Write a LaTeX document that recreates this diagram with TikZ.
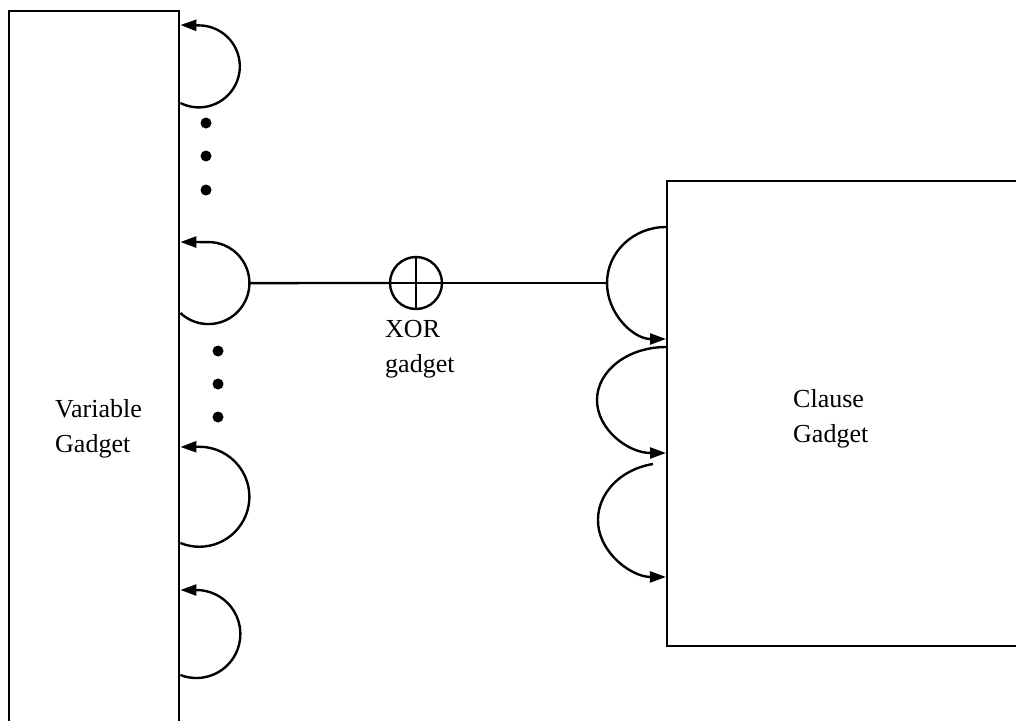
\documentclass[tikz,border=0pt]{standalone}
\usepackage{fontspec}
\setmainfont{Liberation Serif}
\usetikzlibrary{arrows.meta,calc}
\begin{document}
\begin{tikzpicture}[x=1pt,y=-1pt,
  box/.style={draw, line width=2.4pt, inner sep=0pt},
  loopline/.style={line width=2.4pt, -{Triangle[length=16pt,width=11pt]}},
  dotmark/.style={circle, fill, inner sep=0pt, minimum size=11pt},
  lbl/.style={font=\fontsize{26}{35}\selectfont, align=left, inner sep=0pt, anchor=base west},
  wire/.style={line width=2.4pt}]
\useasboundingbox (0,0) rectangle (1016,720);
\clip (0,0) rectangle (1016,720);
% boxes
\node[box, minimum width=170pt, minimum height=740pt, anchor=north west] (var) at (8,10) {};
\node[box, line width=2pt, minimum width=400pt, minimum height=465pt, anchor=north west] (clause) at (666,180) {};
% left loops
\draw[loopline] (var.east |- 0,103) arc[start angle=116.7, end angle=-90, radius=41] -- (var.east |- 0,25);
\draw[loopline] (var.east |- 0,313) arc[start angle=133.1, end angle=0, radius=41] coordinate (v2r)
  arc[start angle=0, end angle=-90, radius=41] -- (var.east |- 0,242);
\draw[loopline] (var.east |- 0,543) arc[start angle=112.3, end angle=-90, radius=50] -- (var.east |- 0,447);
\draw[loopline] (var.east |- 0,675) arc[start angle=111.3, end angle=-90, radius=44] -- (var.east |- 0,590);
% dots
\node[dotmark] (d1) at (206,123) {};
\node[dotmark] (d2) at (206,156) {};
\node[dotmark] (d3) at (206,190) {};
\node[dotmark] (d4) at (218,351) {};
\node[dotmark] (d5) at (218,384) {};
\node[dotmark] (d6) at (218,417) {};
% right loops
\draw[loopline] (clause.west |- 0,227) arc[start angle=270, end angle=180, x radius=59, y radius=56] coordinate (cAl)
  arc[start angle=180, end angle=90, x radius=59, y radius=56];
\draw[loopline] (clause.west |- 0,347) arc[start angle=270, end angle=90, x radius=69, y radius=53];
\draw[loopline] ($(clause.west |- 0,464)+(-13,0)$) arc[start angle=259, end angle=90, x radius=68, y radius=57];
% XOR
\node[circle, draw, line width=2.4pt, minimum size=52pt, inner sep=0pt,
  path picture={\draw[line width=1.5pt] (path picture bounding box.north) -- (path picture bounding box.south)
   (path picture bounding box.west) -- (path picture bounding box.east);}] (xor) at (416,283) {};
\draw[wire] (v2r) -- (xor);
\draw[wire] (xor) -- (cAl);
% labels
\node[lbl] (vlabel) at (55,452) {Variable\\Gadget};
\node[lbl] (clabel) at (793,442) {Clause\\Gadget};
\node[lbl] (xlabel) at (385,372) {XOR\\gadget};
\end{tikzpicture}
\end{document}
